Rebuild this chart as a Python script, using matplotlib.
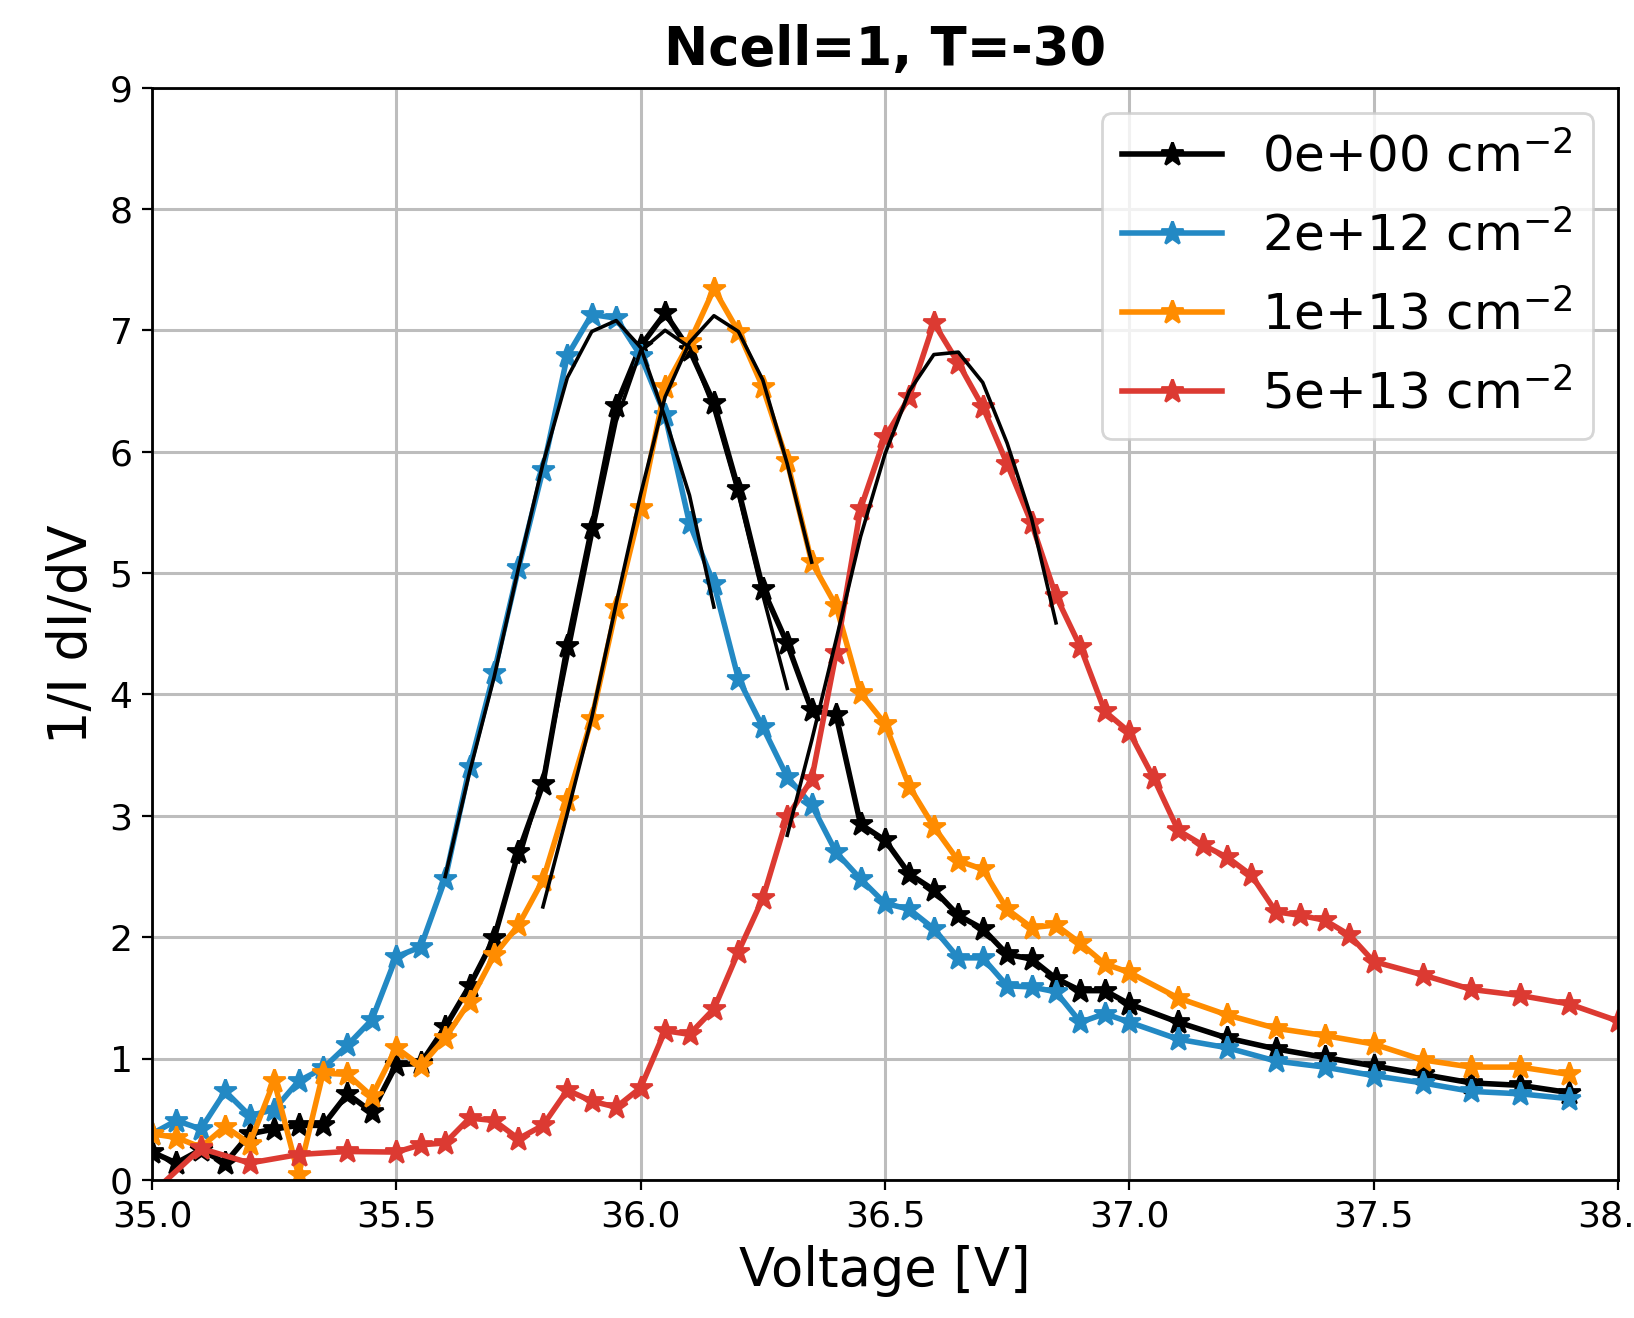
import numpy as np
import matplotlib.pyplot as plt

# voltage grid: 0.05 V steps up to 37.0, then 0.1 V
v_main = [35.00, 35.05, 35.10, 35.15, 35.20, 35.25, 35.30, 35.35, 35.40, 35.45,
          35.50, 35.55, 35.60, 35.65, 35.70, 35.75, 35.80, 35.85, 35.90, 35.95,
          36.00, 36.05, 36.10, 36.15, 36.20, 36.25, 36.30, 36.35, 36.40, 36.45,
          36.50, 36.55, 36.60, 36.65, 36.70, 36.75, 36.80, 36.85, 36.90, 36.95,
          37.00, 37.10, 37.20, 37.30, 37.40, 37.50, 37.60, 37.70, 37.80, 37.90]

y_0e00 = [0.23, 0.14, 0.25, 0.14, 0.38, 0.42, 0.45, 0.45, 0.71, 0.56,
          0.95, 0.96, 1.26, 1.60, 1.99, 2.70, 3.26, 4.40, 5.37, 6.38,
          6.87, 7.14, 6.84, 6.40, 5.69, 4.87, 4.42, 3.87, 3.83, 2.93,
          2.80, 2.52, 2.39, 2.18, 2.07, 1.86, 1.82, 1.66, 1.56, 1.56,
          1.45, 1.30, 1.17, 1.08, 1.01, 0.94, 0.87, 0.80, 0.78, 0.72]

y_2e12 = [0.38, 0.49, 0.42, 0.73, 0.53, 0.58, 0.815, 0.92, 1.11, 1.32,
          1.84, 1.92, 2.48, 3.40, 4.18, 5.04, 5.85, 6.79, 7.13, 7.10,
          6.79, 6.30, 5.41, 4.91, 4.13, 3.73, 3.32, 3.09, 2.70, 2.48,
          2.28, 2.23, 2.07, 1.83, 1.83, 1.60, 1.59, 1.55, 1.30, 1.37,
          1.30, 1.16, 1.09, 0.98, 0.93, 0.86, 0.80, 0.73, 0.71, 0.67]

y_1e13 = [0.38, 0.35, 0.27, 0.44, 0.30, 0.815, 0.04, 0.88, 0.87, 0.69,
          1.09, 0.94, 1.17, 1.47, 1.85, 2.10, 2.47, 3.13, 3.80, 4.71,
          5.54, 6.53, 6.90, 7.34, 6.99, 6.53, 5.92, 5.09, 4.73, 4.01,
          3.76, 3.24, 2.91, 2.63, 2.56, 2.23, 2.08, 2.10, 1.95, 1.78,
          1.71, 1.50, 1.36, 1.25, 1.19, 1.12, 0.99, 0.93, 0.93, 0.87]

# red series has its fine steps shifted by half a volt
v_5e13 = [35.0, 35.1, 35.2, 35.3, 35.4, 35.5, 35.55, 35.60, 35.65, 35.70,
          35.75, 35.80, 35.85, 35.90, 35.95, 36.00, 36.05, 36.10, 36.15, 36.20,
          36.25, 36.30, 36.35, 36.40, 36.45, 36.50, 36.55, 36.60, 36.65, 36.70,
          36.75, 36.80, 36.85, 36.90, 36.95, 37.00, 37.05, 37.10, 37.15, 37.20,
          37.25, 37.30, 37.35, 37.40, 37.45, 37.5, 37.6, 37.7, 37.8, 37.9, 38.0]
y_5e13 = [-0.11, 0.26, 0.14, 0.21, 0.235, 0.23, 0.29, 0.305, 0.51, 0.49,
          0.34, 0.45, 0.74, 0.65, 0.60, 0.76, 1.23, 1.20, 1.41, 1.88,
          2.32, 2.99, 3.30, 4.34, 5.53, 6.12, 6.45, 7.06, 6.73, 6.37,
          5.90, 5.41, 4.81, 4.39, 3.86, 3.69, 3.31, 2.88, 2.76, 2.66,
          2.51, 2.21, 2.18, 2.14, 2.02, 1.80, 1.69, 1.57, 1.52, 1.45, 1.31]

# peak fits (12 points each)
fit_v_0e00 = [35.75, 35.80, 35.85, 35.90, 35.95, 36.00, 36.05, 36.10, 36.15, 36.20, 36.25, 36.30]
fit_y_0e00 = [2.62, 3.30, 4.30, 5.30, 6.25, 6.83, 7.00, 6.86, 6.35, 5.65, 4.82, 4.05]
fit_v_2e12 = [35.60, 35.65, 35.70, 35.75, 35.80, 35.85, 35.90, 35.95, 36.00, 36.05, 36.10, 36.15]
fit_y_2e12 = [2.50, 3.36, 4.14, 5.04, 5.90, 6.61, 6.99, 7.08, 6.86, 6.28, 5.64, 4.72]
fit_v_1e13 = [35.80, 35.85, 35.90, 35.95, 36.00, 36.05, 36.10, 36.15, 36.20, 36.25, 36.30, 36.35]
fit_y_1e13 = [2.25, 3.02, 3.81, 4.75, 5.65, 6.45, 6.90, 7.12, 6.99, 6.59, 5.90, 5.09]
fit_v_5e13 = [36.30, 36.35, 36.40, 36.45, 36.50, 36.55, 36.60, 36.65, 36.70, 36.75, 36.80, 36.85]
fit_y_5e13 = [2.84, 3.62, 4.45, 5.30, 5.98, 6.50, 6.80, 6.82, 6.57, 6.07, 5.45, 4.59]

labels = ["0e+00 cm$^{-2}$", "2e+12 cm$^{-2}$", "1e+13 cm$^{-2}$", "5e+13 cm$^{-2}$"]
colors = ["black", "#2389c4", "#ff8c00", "#dc3a32"]

series = [(v_main, y_0e00), (v_main, y_2e12), (v_main, y_1e13), (v_5e13, y_5e13)]
fits = [(fit_v_0e00, fit_y_0e00), (fit_v_2e12, fit_y_2e12),
        (fit_v_1e13, fit_y_1e13), (fit_v_5e13, fit_y_5e13)]

fig = plt.figure(figsize=(8.17, 6.59), dpi=200)
ax = fig.add_axes([0.093, 0.1047, 0.8972, 0.8289])

for (vx, vy), lab, c in zip(series, labels, colors):
    ax.plot(vx, vy, marker="*", color=c, lw=2, ms=8.5, label=lab)

for fx, fy in fits:
    ax.plot(fx, fy, color="black", lw=1.3)

ax.set_xlim(35.0, 38.0)
ax.set_ylim(0, 9)
ax.set_xticks(np.arange(35.0, 38.01, 0.5))
ax.set_yticks(range(0, 10))
ax.tick_params(labelsize=13)
for s in ax.spines.values():
    s.set_linewidth(1.0)
ax.grid(True, color="#bdbdbd", lw=1.1)
ax.set_xlabel("Voltage [V]", fontsize=19)
ax.set_ylabel("1/I dI/dV", fontsize=19)
ax.set_title("Ncell=1, T=-30", fontsize=19, fontweight="bold", pad=8)
ax.legend(loc="upper right", fontsize=18, labelspacing=0.6)

fig.savefig("out.png", dpi=200)
